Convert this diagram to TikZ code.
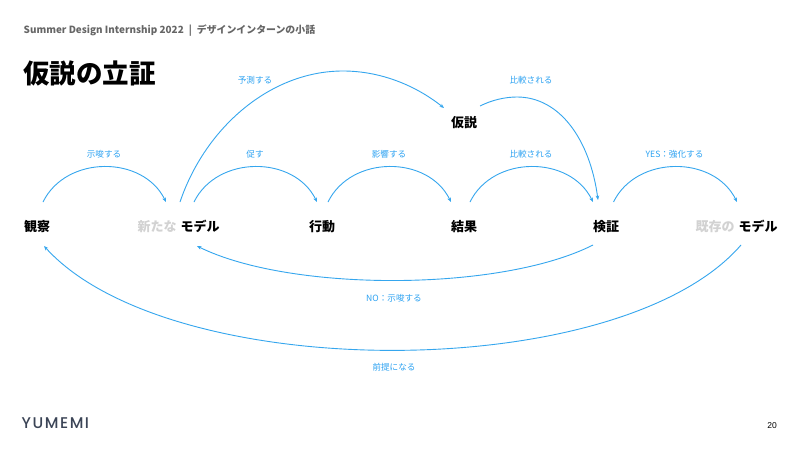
\documentclass[tikz,border=0pt]{standalone}
\usepackage{fontspec}
\setmainfont{Noto Sans CJK JP}
\newfontfamily\logofont[LetterSpace=10]{Poppins Medium}
\newfontfamily\numfont{Liberation Sans}
\usetikzlibrary{arrows.meta,calc}
\definecolor{linkblue}{HTML}{35A6EE}
\definecolor{labelblue}{HTML}{2CA2F2}
\definecolor{headgray}{HTML}{666666}
\definecolor{ghost}{HTML}{D2D2D2}
\definecolor{logoink}{HTML}{3B4456}
\tikzset{
  term/.style={inner sep=0pt,font=\fontsize{13}{13}\selectfont\bfseries,text=black},
  lab/.style={inner sep=0pt,font=\fontsize{8.6}{9}\selectfont,text=labelblue},
  link/.style={draw=linkblue,line width=0.9pt,-{Stealth[length=4.5pt,width=3.6pt]}}
}
\newcommand{\gh}[1]{{\color{ghost}#1}}
\begin{document}
\begin{tikzpicture}[x=1pt,y=-1pt]
\useasboundingbox (0,0) rectangle (800,450);
\fill[white] (0,0) rectangle (800,450);
\node[anchor=west,inner sep=0pt,text=headgray,font=\fontsize{9.9}{10}\selectfont\bfseries] (head) at (23.5,30.7) {Summer Design Internship 2022\hspace{5pt}|\hspace{5pt}デザインインターンの小話};
\node[anchor=west,inner sep=0pt,text=black,font=\fontsize{26.5}{27}\selectfont\bfseries] (title) at (23,73.3) {仮説の立証};
\node[term] (obs) at (37,226.6) {観察};
\node[term] (modelA) at (178.5,226.6) {\gh{新たな}\hspace{4pt}モデル};
\node[term] (act) at (322,226.6) {行動};
\node[term] (res) at (464,226.6) {結果};
\node[term] (ver) at (606,226.6) {検証};
\node[term] (modelB) at (736.5,226.6) {\gh{既存の}\hspace{4pt}モデル};
\node[term] (hyp) at (464,122.6) {仮説};
\node[lab] (l1) at (104,154.4) {示唆する};
\node[lab] (l2) at (255,80.4) {予測する};
\node[lab] (l3) at (255,154.4) {促す};
\node[lab] (l4) at (389,154.4) {影響する};
\node[lab] (l5) at (531,80.4) {比較される};
\node[lab] (l6) at (531,154.4) {比較される};
\node[lab] (l7) at (674.5,154.4) {YES：強化する};
\node[lab] (l8) at (394,298.4) {NO：示唆する};
\node[lab] (l9) at (394,367.4) {前提になる};
\draw[link] ([shift={(6,-24.6)}]obs.center) .. controls (66,155) and (143,155) .. ([shift={(-12.5,-24.6)}]modelA.center);
\draw[link] ([shift={(15.5,-24.6)}]modelA.center) .. controls (217,155) and (294,155) .. ([shift={(-5,-24.6)}]act.center);
\draw[link] ([shift={(6,-24.6)}]act.center) .. controls (351,155) and (428,155) .. ([shift={(-13,-24.6)}]res.center);
\draw[link] ([shift={(6,-24.6)}]res.center) .. controls (493,155) and (570,155) .. ([shift={(-13,-24.6)}]ver.center);
\draw[link] ([shift={(7.5,-24.6)}]ver.center) .. controls (636.5,155) and (714,155) .. ([shift={(0.5,-24.6)}]modelB.center);
\draw[link] ([shift={(1.5,-24.6)}]modelA.center) .. controls (205,128) and (270,71) .. (343,71) .. controls (380,71) and (415,85) .. ([shift={(-20,-14.6)}]hyp.center);
\draw[link] ([shift={(16,-16.6)}]hyp.center) .. controls (492,100) and (505,97) .. (517,97) .. controls (560,97) and (590,140) .. ([shift={(-8,-26.6)}]ver.center);
\draw[link] ([shift={(-13,18.4)}]ver.center) .. controls (500,292) and (290,292) .. ([shift={(18.5,19.4)}]modelA.center);
\draw[link] ([shift={(4.5,18.4)}]modelB.center) .. controls (620,385) and (170,385) .. ([shift={(7,19.4)}]obs.center);
\node[anchor=west,inner sep=0pt,text=logoink,font=\logofont\fontsize{15.5}{16}\selectfont] (logo) at (21.5,423.5) {YUMEMI};
\node[inner sep=0pt,text=black,font=\numfont\fontsize{8.5}{9}\selectfont] (page) at (772,426) {20};
\end{tikzpicture}
\end{document}
